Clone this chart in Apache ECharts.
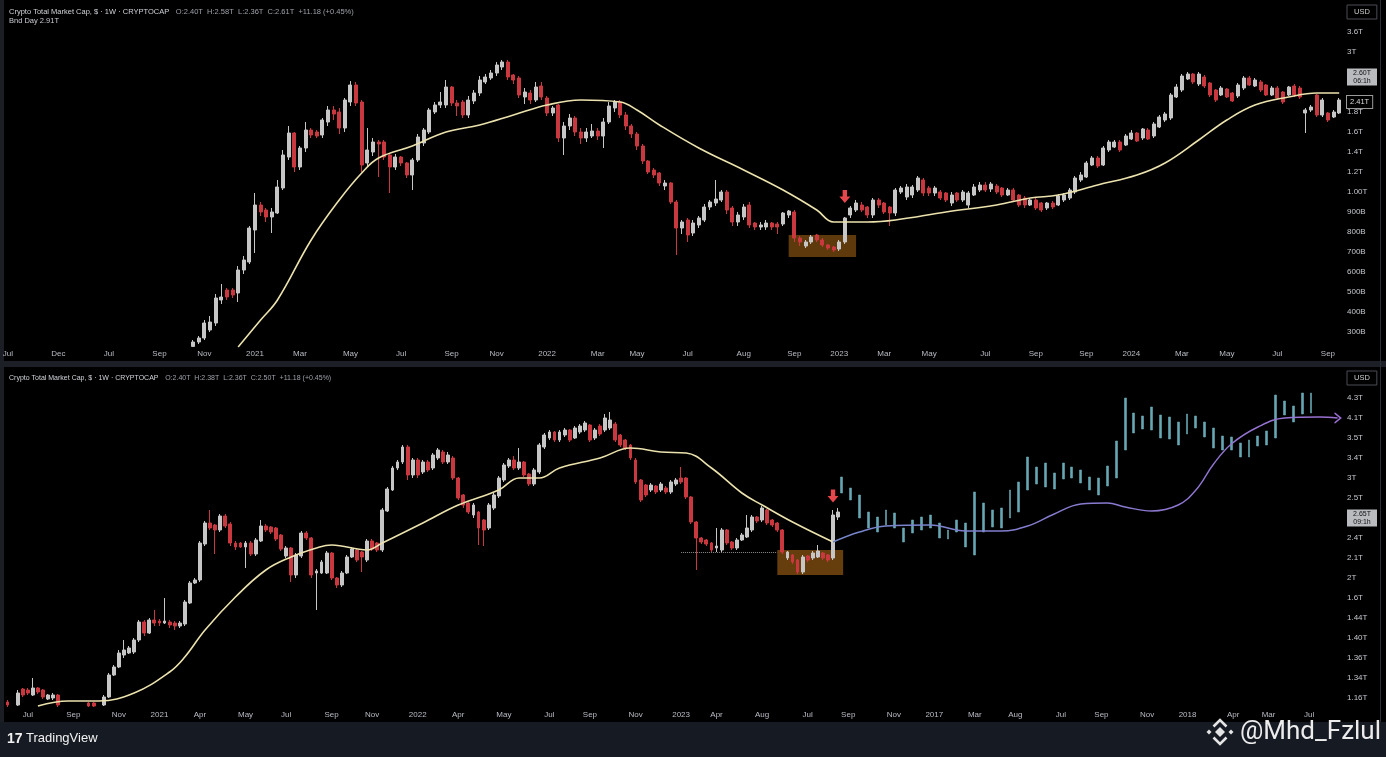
<!DOCTYPE html>
<html><head><meta charset="utf-8">
<script src="https://cdn.jsdelivr.net/npm/echarts@6/dist/echarts.min.js"></script>
<style>html,body{margin:0;padding:0;background:#000;}#c{width:1386px;height:757px;}</style>
</head><body><div id="c"></div>
<script>
// ---------- categories (weekly) ----------
const TOP_X_LABELS = ['Jul','Dec','Jul','Sep','Nov','2021','Mar','May','Jul','Sep','Nov','2022','Mar','May','Jul','Aug','Sep','2023','Mar','May','Jul','Sep','Sep','2024','Mar','May','Jul','Sep'];
const TOP_X_SPANS  = [9,9,9,8,9,8,9,9,9,8,9,9,7,9,10,9,8,8,8,10,9,9,8,9,8,9,9,3];
const BOT_X_LABELS = ['','Jul','Sep','Nov','2021','Apr','May','Jul','Sep','Nov','2022','Apr','May','Jul','Sep','Nov','2023','Apr','Aug','Jul','Sep','Nov','2017','Mar','Aug','Jul','Sep','Nov','2018','Apr','Mar','Jul'];
const BOT_X_SPANS  = [4,9,9,8,8,9,8,9,8,9,8,9,9,8,9,9,7,9,9,8,9,8,8,8,9,8,9,8,9,7,8,7];
const PROJ_SLOTS = 151;

// ---------- price-axis tick labels (one per step, bottom to top) ----------
const TOP_Y_TICKS = ['300B','400B','500B','600B','700B','800B','900B','1.00T','1.2T','1.4T','1.6T','1.8T','','','3T','3.6T','USD'];
const BOT_Y_TICKS = ['1.16T','1.34T','1.36T','1.40T','1.44T','1.6T','2T','2.1T','2.4T','','2.5T','3T','3.4T','3.5T','4.1T','4.3T','USD'];
const TOP_TAGS = [[12.75,'2.60T|06:1h','tag'],[11.5,'2.41T','box']];
const BOT_TAGS = [[9,'2.65T|09:1h','tag']];

// ---------- top panel: weekly candles [open, close, low, high] ----------
const TOP_LEAD = 33;
const TOP_OHLC = [
[-0.72,-0.5,-0.75,-0.4],[-0.5,-0.3,-0.6,-0.2],[-0.3,0.45,-0.4,0.6],[0.1,0.5,0,0.8],[0.45,1.7,0.3,1.9],
[1.6,1.75,1.4,2.4],[2.1,1.75,1.6,2.2],[2.1,1.85,1.7,2.2],[1.95,3.1,1.5,3.3],[3.1,3.6,2.9,3.8],
[3.5,5.2,3.4,5.3],[5.1,6.35,3.95,6.95],[6.35,6,5.8,6.5],[6.1,5.75,5.5,6.2],[5.75,6,4.95,6.2],
[5.95,7.25,5.9,7.6],[7.2,8.85,7.1,9.1],[8.75,9.95,8.6,10.3],[9.95,8.25,8,10],[8.25,9.2,8.1,9.3],
[9.2,10.1,9,10.5],[10.1,9.85,9.7,10.2],[10,9.8,9.7,10.1],[9.85,10.6,9.7,10.7],[10.5,11.1,10.3,11.3],
[11.1,10.9,10.6,11.3],[11,10.2,9.9,11.2],[10.2,11.6,10,11.7],[11.5,12.35,11.3,12.55],[12.35,11.45,11.3,12.5],
[11.5,8.35,8,11.6],[8.45,9.1,8.3,10.2],[9,9.5,8.8,9.7],[9.5,9.4,7.75,9.6],[9.5,8.75,8.6,9.6],
[8.85,8.25,6.95,8.9],[8.25,8.75,8.1,8.9],[8.75,8.45,8.3,8.8],[8.45,7.85,7.7,8.5],[7.85,8.6,7.1,8.7],
[8.6,9.75,8.5,9.9],[9.45,10.1,9.3,10.2],[10,11.1,9.9,11.2],[11,11.35,10.9,11.5],[11.35,11.5,11.2,12],
[11.35,12.25,11.2,12.6],[12.25,11.45,11.3,12.3],[11.45,11.3,10.8,11.6],[11.5,10.85,10.7,11.6],[10.85,11.6,10.7,11.8],
[11.55,11.95,11.4,12.1],[11.95,12.6,11.8,12.8],[12.5,12.75,12.4,12.9],[12.7,12.95,12.6,13.1],[12.95,13.35,12.8,13.5],
[13.25,13.5,13.1,13.6],[13.5,12.75,12.6,13.6],[12.85,12.6,12.4,12.9],[12.7,11.85,11.7,12.8],[11.75,12,11.4,12.2],
[11.95,11.6,11.4,12.1],[11.6,12.25,11.5,12.5],[12.3,11.75,11.6,12.5],[11.7,10.95,10.8,11.8],[10.95,11.2,10.8,11.3],
[11.35,9.7,9.5,11.4],[9.7,10.3,8.85,10.5],[10.3,10.7,10.1,10.9],[10.7,10,9.8,10.8],[10,9.7,9.4,10.2],
[9.7,10,9.5,10.2],[9.8,10.05,9.7,10.4],[10.05,9.8,9.6,10.2],[9.8,10.5,9.2,10.7],[10.5,11.3,10.4,11.5],
[11.2,11.5,11,11.6],[11.5,10.85,10.7,11.6],[10.85,10.3,10.1,11],[10.3,9.9,9.7,10.4],[9.9,9.3,9.1,10],
[9.3,8.55,8.4,9.4],[8.55,8,7.9,8.6],[8.1,7.85,7.7,8.2],[7.95,7.45,7.3,8],[7.3,7.45,7.1,7.6],
[7.45,6.5,6.4,7.5],[6.5,5.2,3.85,6.6],[5.2,5.5,4.9,5.6],[5.6,4.85,4.5,5.7],[4.95,5.45,4.8,5.6],
[5.35,5.7,5.2,5.8],[5.6,6.25,5.5,6.4],[6.25,6.5,6.1,6.6],[6.45,6.65,6.3,7.6],[6.6,7,6.5,7.1],
[7,6.1,5.9,7.1],[6.2,5.5,5.3,6.3],[5.5,5.85,5.3,6],[5.75,6.25,5.6,6.4],[6.35,5.35,5.2,6.5],
[5.45,5.25,5.1,5.5],[5.25,5.35,5.1,5.5],[5.25,5.45,5.1,5.6],[5.45,5.25,5.1,5.5],[5.4,5.25,4.9,5.5],
[5.4,5.95,5.3,6],[5.85,6.05,5.7,6.1],[6,4.7,4.5,6.1],[4.7,4.5,4.3,4.8],[4.3,4.5,4.2,4.6],
[4.5,4.75,4.4,4.85],[4.85,4.6,4.5,4.9],[4.6,4.35,4.25,4.7],[4.35,4.2,4.1,4.4],[4.25,4.1,4,4.3],
[4.15,4.5,4.05,4.6],[4.5,5.7,4.4,5.75],[5.85,6.2,5.7,6.3],[6.1,6.45,6,6.6],[6.35,6.1,6,6.5],
[6.25,5.85,5.7,6.3],[5.85,6.6,5.7,6.7],[6.6,6.35,6.2,6.7],[6.45,6,5.9,6.5],[6.25,5.95,5.3,6.3],
[5.95,7.1,5.8,7.2],[7,7.2,6.9,7.3],[6.75,7.25,6.6,7.4],[6.85,7.25,6.7,7.35],[7.1,7.7,7,7.8],
[7.6,6.95,6.8,7.7],[7.2,6.95,6.8,7.3],[6.95,7.2,6.8,7.3],[7,6.7,6.6,7.1],[6.95,6.6,6.5,7],
[6.45,6.85,6.3,7],[6.95,6.6,6.5,7],[6.6,7,6.5,7.1],[6.35,6.95,6.2,7.05],[6.85,7.25,6.8,7.4],
[7.1,7.35,7,7.5],[7.35,7.1,7,7.5],[7.15,7.4,7,7.5],[7.3,7,6.9,7.4],[7.2,6.85,6.75,7.25],
[6.85,7.1,6.8,7.2],[7.1,6.6,6.5,7.2],[6.85,6.35,6.25,6.9],[6.7,6.35,6.2,6.8],[6.35,6.6,6.3,6.7],
[6.6,6.2,6.1,6.7],[6.45,6.1,6,6.5],[6.2,6.45,6.1,6.5],[6.45,6.25,6.15,6.55],[6.35,6.8,6.3,6.9],
[6.6,6.85,6.5,6.95],[6.7,7.1,6.6,7.2],[7,7.7,6.9,7.8],[7.6,7.85,7.5,8],[7.75,8.45,7.7,8.55],
[8.35,8.7,8.3,8.8],[8.7,8.3,8.2,8.8],[8.35,9.2,8.3,9.3],[9.1,9.5,9,9.6],[9.25,9.5,9.2,9.6],
[9.5,9.1,9,9.6],[9.35,9.8,9.3,9.9],[9.65,9.95,9.6,10.1],[9.95,9.55,9.5,10],[9.7,10.15,9.6,10.2],
[10.1,9.65,9.6,10.2],[9.8,10.4,9.7,10.5],[10.25,10.75,10.2,10.85],[10.6,10.9,10.5,11],[10.7,11.85,10.6,11.95],
[11.75,12.25,11.7,12.4],[12.1,12.8,12,12.9],[12.65,12.9,12.6,13],[12.9,12.5,12.4,12.95],[12.4,12.9,12.3,13],
[12.75,12.3,12.2,12.85],[12.45,11.85,11.75,12.5],[12.1,11.6,11.5,12.15],[11.85,12.2,11.8,12.3],[12.15,11.75,11.7,12.2],
[11.95,11.55,11.5,12],[11.8,12.35,11.7,12.45],[12.2,12.7,12.1,12.8],[12.7,12.35,12.3,12.8],[12.3,12.6,12.25,12.7],
[12.5,12.1,12,12.6],[12.35,11.85,11.8,12.4],[11.85,12.2,11.8,12.3],[12.2,11.7,11.6,12.3],[12,11.5,11.4,12.05],
[11.85,12.25,11.8,12.3],[12.3,11.85,11.75,12.4],[12.2,11.75,11.65,12.3],[10.95,11.1,9.95,11.2],[11.1,11.25,11,11.35],
[11.85,10.85,10.75,11.9],[10.85,11.6,10.75,11.7],[10.95,10.6,10.5,11],[10.75,11,10.7,11.1],[10.95,11.6,10.9,11.7]
];
// 20-week average, [week, value]
const TOP_MA = [[41,-0.75],[45,0.6],[48,1.6],[54,4.6],[59,6.6],[63,7.95],[66,8.7],[72,9.3],[78,10],[84,10.35],[90,10.85],[96,11.35],[102,11.6],[109,11.5],[112,11.1],[116,10.35],[123,9.2],[131,8.1],[138,7.1],[144,6.1],[147,5.5],[153,5.5],[158,5.6],[167,6],[176,6.35],[182,6.7],[187,6.85],[194,7.35],[201,7.85],[206,8.45],[212,9.6],[217,10.6],[222,11.35],[228,11.75],[233,11.95],[237,11.95]];
const TOP_BOX = [139,151,3.75,4.85];
const TOP_ARROW = [149,6.78];

// ---------- bottom panel ----------
const BOT_OHLC = [
[-0.2,-0.35,-0.45,-0.1],null,[-0.35,0.25,-0.4,0.4],[0.45,0.15,0.05,0.5],[0.4,0.25,0.15,0.5],
[0.15,0.5,0.1,1],[0.5,0.3,0.2,0.55],[0.4,0.05,-0.05,0.45],[-0.05,0.15,-0.1,0.2],[0,0.15,-0.1,0.25],
[0.15,-0.35,-0.45,0.2],null,null,null,null,
null,[-0.25,-0.4,-0.45,-0.2],[-0.25,-0.4,-0.45,-0.2],null,[-0.35,0.05,-0.4,0.15],
[0.05,1.15,0,1.25],[1.15,1.55,1.1,1.65],[1.55,2.25,1.5,2.4],[2.15,2.4,2,2.9],[2.25,2.5,2.2,2.6],
[2.3,2.9,2.2,3],[2.9,3.8,2.8,3.9],[3.8,3.25,3.1,3.9],[3.25,3.9,3.2,4],[3.9,3.75,3.6,4.4],
[3.85,3.75,3.6,3.95],[3.75,3.85,3.7,5],[3.8,3.65,3.5,3.9],[3.75,3.6,3.4,3.85],[3.6,3.75,3.5,3.85],
[3.7,4.8,3.6,4.9],[4.75,5.75,4.7,5.85],[5.75,5.9,5.7,6],[5.9,7.75,5.8,7.85],[7.7,8.75,7.6,8.85],
[8.75,8.5,8.4,9.4],[8.65,8.4,7.2,8.7],[8.4,9.1,8.3,9.2],[9.1,8.6,8.5,9.2],[8.7,7.75,7.6,8.8],
[7.75,7.55,7.4,7.85],[7.75,7.55,7.5,7.8],[7.55,7.75,6.5,7.85],[7.75,7.2,7.1,7.85],[7.2,7.9,7.1,8],
[7.85,8.6,7.8,8.9],[8.6,8.4,8.3,8.7],[8.55,8.3,8.2,8.6],[8.5,7.95,7.85,8.55],[8.15,7.45,7.35,8.2],
[7.1,7.5,7,7.6],[7.5,6.15,5.8,7.55],[6.15,7.15,6,7.25],[7.1,8.25,7,8.35],[8.25,8,7.9,8.35],
[8,6.15,6,8.05],[6.25,6.35,4.4,6.45],[6.25,6.8,6.2,6.9],[6.25,7.25,6.2,7.35],[7.25,6,5.9,7.3],
[6,5.65,5.5,6.05],[5.65,6.25,5.55,6.35],[6.25,7.05,6.2,7.15],[7.05,7.45,7,7.55],[7.4,6.9,6.8,7.5],
[7.3,7.05,6.3,7.35],[6.9,7.85,6.8,7.95],[7.85,7.45,7.35,7.95],[7.75,7.4,7.3,7.8],[7.4,9.4,7.3,9.5],
[9.35,10.45,9.3,10.55],[10.4,11.5,10.35,11.6],[11.5,11.8,11.4,11.9],[11.8,12.55,11.7,12.65],[12.55,11.15,10.9,12.65],
[11.15,11.9,11,12],[11.9,11.15,11,12],[11.3,11.8,11.2,11.9],[11.8,11.4,11.3,11.9],[11.5,12.15,11.4,12.25],
[12,12.4,11.9,12.5],[12.3,11.8,11.7,12.4],[11.8,12.15,11.7,12.3],[12,11,10.9,12.1],[11,10,9.9,11.05],
[10.15,9.65,9.5,10.2],[9.75,9.3,9.2,9.8],[9.15,9.65,9,9.75],[9.3,8.5,7.65,9.35],[8.9,8.4,7.6,8.95],
[8.5,9.65,8.4,9.75],[9.5,10.15,9.4,10.25],[10.1,11,10,11.1],[10.9,11.65,10.8,11.75],[11.6,11.9,11.5,12],
[11.9,11.5,11.4,12.1],[11.5,11.8,11.4,12.5],[11.8,11.15,11.05,11.85],[11.2,10.7,10.6,11.25],[10.7,11.4,10.6,11.5],
[11.3,12.65,11.2,12.75],[12.55,13.15,12.45,13.25],[13,13.3,12.9,13.4],[13.3,12.9,12.8,13.35],[12.9,13.3,12.8,13.4],
[13.15,13.4,13.05,13.5],[13.4,12.9,12.8,13.45],[13,13.5,12.95,13.6],[13.3,13.6,13.2,13.7],[13.4,13.75,13.3,13.85],
[13.65,12.9,12.8,13.7],[13,13.4,12.9,13.5],[13.6,13.2,13.1,13.7],[13.4,14,13.3,14.2],[13.5,13.9,13.4,14.3],
[13.7,12.9,12.8,13.8],[13.15,12.65,12.55,13.2],[12.9,12.5,12.4,12.95],[12.65,12,11.9,12.7],[11.9,10.8,10.7,12],
[10.9,9.9,9.8,10.95],[10.65,10.15,10.05,10.7],[10.4,10.65,10.3,10.75],[10.6,10.3,10.2,10.65],[10.4,10.7,10.3,10.8],
[10.5,10.3,10.2,10.6],[10.3,10.8,10.2,10.9],[10.7,10.9,10.6,11],[11,10.8,10.7,11.55],[11,10.05,9.95,11.05],
[10.05,8.8,8.7,10.1],[8.8,8,6.4,8.85],[8,7.8,7.7,8.05],[7.9,7.7,7.6,7.95],[7.75,7.4,7.3,7.8],
[7.5,7.6,7.3,8.5],[7.4,8.4,7.3,8.5],[8.4,7.75,7.65,8.45],[7.8,7.5,7.4,7.85],[7.5,7.9,7.4,8],
[7.9,8.15,7.85,8.25],[8.05,8.5,8,9.15],[8.4,9.05,8.3,9.15],[9.05,8.85,8.75,9.1],[8.9,9.5,8.8,9.6],
[9.4,8.75,8.65,9.45],[8.9,8.65,8.55,8.95],[8.75,8.4,8.3,8.8],[8.4,7.3,7.2,8.45],[7,7.3,6.9,7.35],
[7.15,6.8,6.7,7.2],[6.9,6.3,6.2,6.95],[6.3,7.05,6.2,7.15],[7.1,6.9,6.8,7.15],[7,7.25,6.9,7.35],
[7.05,7.35,7,7.65],[7.25,7,6.9,7.3],[7.15,6.9,6.8,7.2],[7,9.15,6.9,9.4],[9.05,9.3,8.9,9.5]
];
const BOT_MA = [[6,-0.4],[12,-0.15],[18,-0.15],[25,0.25],[32,1.3],[35,2.05],[39,3.4],[45,5.05],[51,6.4],[56,7.05],[61,7.5],[64,7.65],[71,7.4],[74,7.75],[82,8.75],[89,9.65],[97,10.4],[101,11],[105,11],[109,11.5],[117,12],[123,12.5],[129,12.3],[134,12.25],[139,11.5],[145,10.25],[149,9.65],[155,8.8],[163,7.8]];
const BOT_BOX = [152,165,6.15,7.4];
const BOT_ARROW = [163,10.1];
const BOT_SUPPORT = [133,152,7.3];
// projected path: [low, high] per slot, starting at slot PROJ_LEAD
const PROJ_LEAD = 94;
const PROJ_BARS = [[10.25,11.05],[9.9,10.5],[9,10.15],[8.5,9.3],[8.3,9.05],[8.65,9.4],[8.5,9.25],[7.8,8.5],[8.25,8.9],[8.4,9.05],[8.5,9.15],[8,8.75],[7.95,8.4],[8.3,8.9],[7.55,8.75],[7.15,10.3],[8.3,9.75],[8.55,9.4],[8.5,9.5],[9,10.4],[9.3,10.8],[10.4,12.05],[10.7,11.55],[10.55,11.75],[10.45,11.25],[10.95,11.75],[11,11.55],[10.75,11.4],[10.4,11.05],[10.15,11],[10.6,11.6],[11,12.85],[12.4,15],[13.25,14.25],[13.45,14.1],[13.4,14.55],[13,14.15],[12.95,14.05],[12.65,13.8],[13.2,14.2],[13.5,14.1],[13.05,13.8],[12.5,13.5],[12.4,13.1],[12.4,13.05],[12.05,12.75],[12.05,12.9],[12.6,13.1],[12.65,13.35],[13,15.15],[14.15,14.85],[13.8,14.6],[14.2,15.25],[14.25,15.25]];
const PROJ_MA = [[93,7.8],[96,8.3],[99,8.6],[104,8.65],[108,8.35],[112,8.35],[115,8.6],[118,9.2],[121,9.7],[124,9.75],[126,9.55],[129,9.35],[132,9.65],[134,10.4],[136,11.7],[138,12.7],[141,13.55],[144,14],[148,14.05],[150,14]];

// ---------- headers ----------
const HEAD_TITLE = 'Crypto Total Market Cap, $ · 1W · CRYPTOCAP';
const HEAD_TOP_VALUES = 'O:2.40T  H:2.58T  L:2.36T  C:2.61T  +11.18 (+0.45%)';
const HEAD_TOP_SUB = 'Bnd Day 2.91T';
const HEAD_BOT_VALUES = 'O:2.40T  H:2.38T  L:2.36T  C:2.50T  +11.18 (+0.45%)';

// ---------- build ----------
function buildCats(labels, spans){const out=[];labels.forEach((l,k)=>{for(let s=0;s<spans[k];s++)out.push((s===0?l:'')+'|'+out.length);});return out;}
const topCats = buildCats(TOP_X_LABELS, TOP_X_SPANS);
const botCats = buildCats(BOT_X_LABELS, BOT_X_SPANS);
const projCats = Array.from({length:PROJ_SLOTS},(_,j)=>'p|'+j);
const topData = topCats.map((_,i)=>{const r=TOP_OHLC[i-TOP_LEAD];return r?r:'-';});
const botData = botCats.map((_,i)=>{const r=BOT_OHLC[i];return r?r:'-';});
const projData = projCats.map((_,j)=>{const r=PROJ_BARS[j-PROJ_LEAD];return r?[r[0],r[1],r[0],r[1]]:'-';});
const projMA = PROJ_MA.map((p,k)=>k===PROJ_MA.length-1?{value:p,symbol:'path://M0,0L8,6L0,12',symbolSize:[6,10],itemStyle:{color:'rgba(0,0,0,0)',borderColor:'#9a6fd2',borderWidth:1.5}}:{value:p,symbol:'none'});

const UP='#c6c6c6', DOWN='#c9383e';
const FONT="'Liberation Sans',sans-serif";
const RICH={
  tag:{backgroundColor:'#b9bbbf',color:'#111',fontSize:7,lineHeight:8,width:26,align:'center',padding:[1,2],fontFamily:FONT},
  box:{backgroundColor:'#000',borderColor:'#9a9a9a',borderWidth:1,color:'#ddd',fontSize:7.5,padding:[2,3],fontFamily:FONT},
  usd:{borderColor:'#4a4d55',borderWidth:1,color:'#ccc',fontSize:7.5,padding:[3,7],fontFamily:FONT}
};
function yFmt(ticks,tags){return v=>{const t=tags.find(t=>Math.abs(t[0]-v)<1e-6);if(t)return t[1].split('|').map(s=>'{'+t[2]+'|'+s+'}').join('\n');if(Number.isInteger(v)&&v>=0){const s=ticks[v]||'';if(s==='USD')return '{usd|USD}';return s;}return '';};}
const xLabel={color:'#b9bcc4',fontSize:8,fontFamily:FONT,margin:3,interval:(i,v)=>v.split('|')[0]!=='',formatter:v=>v.split('|')[0]};
const yLabel=(ticks,tags)=>({color:'#c4c7cd',fontSize:8,fontFamily:FONT,margin:5,formatter:yFmt(ticks,tags),rich:RICH});
const ARROW='path://M3,0L7,0L7,5L10,5L5,10L0,5L3,5Z';
function header(top,title,values,size){
  return {type:'text',left:9,top:top,z:50,silent:true,style:{text:'{a|'+title+'}  {b|'+values+'}',
    rich:{a:{fill:'#d0d3d9',fontSize:size,fontFamily:'Liberation Sans'},b:{fill:'#9da1a9',fontSize:size,fontFamily:'Liberation Sans'}}}};
}

const chart=echarts.init(document.getElementById('c'));
chart.setOption({
  animation:false,
  backgroundColor:'#000',
  grid:[
    {left:5,right:44,top:2,height:345,outerBoundsMode:'none'},
    {left:5,right:44,top:368,height:340,outerBoundsMode:'none'}
  ],
  xAxis:[
    {type:'category',gridIndex:0,data:topCats,boundaryGap:true,axisLine:{show:false},axisTick:{show:false},axisLabel:xLabel,splitLine:{show:false}},
    {type:'category',gridIndex:1,data:botCats,boundaryGap:true,axisLine:{show:false},axisTick:{show:false},axisLabel:xLabel,splitLine:{show:false}},
    {type:'category',gridIndex:1,data:projCats,boundaryGap:true,show:false}
  ],
  yAxis:[
    {type:'value',gridIndex:0,position:'right',min:-0.75,max:16.5,interval:0.25,axisLine:{show:false},axisTick:{show:false},splitLine:{show:false},axisLabel:yLabel(TOP_Y_TICKS,TOP_TAGS)},
    {type:'value',gridIndex:1,position:'right',min:-0.5,max:16.5,interval:0.5,axisLine:{show:false},axisTick:{show:false},splitLine:{show:false},axisLabel:yLabel(BOT_Y_TICKS,BOT_TAGS)}
  ],
  series:[
    {type:'candlestick',xAxisIndex:0,yAxisIndex:0,data:topData,barWidth:'62%',
     itemStyle:{color:UP,color0:DOWN,borderColor:UP,borderColor0:DOWN,borderWidth:1},
     markArea:{silent:true,itemStyle:{color:'rgba(170,104,22,0.55)'},data:[[{xAxis:TOP_BOX[0],yAxis:TOP_BOX[3]},{xAxis:TOP_BOX[1],yAxis:TOP_BOX[2]}]]},
     markPoint:{silent:true,label:{show:false},data:[{coord:TOP_ARROW,symbol:ARROW,symbolSize:[11,13],itemStyle:{color:'#e5474c'}}]}},
    {type:'line',xAxisIndex:0,yAxisIndex:0,data:TOP_MA,smooth:0.4,symbol:'none',lineStyle:{color:'#ebe2ad',width:1.6},z:3},
    {type:'candlestick',xAxisIndex:1,yAxisIndex:1,data:botData,barWidth:'66%',
     itemStyle:{color:UP,color0:DOWN,borderColor:UP,borderColor0:DOWN,borderWidth:1},
     markArea:{silent:true,itemStyle:{color:'rgba(170,104,22,0.6)'},data:[[{xAxis:BOT_BOX[0],yAxis:BOT_BOX[3]},{xAxis:BOT_BOX[1],yAxis:BOT_BOX[2]}]]},
     markLine:{silent:true,symbol:['none','none'],label:{show:false},lineStyle:{type:'dotted',color:'#8c8c8c',width:1},data:[[{coord:[BOT_SUPPORT[0],BOT_SUPPORT[2]]},{coord:[BOT_SUPPORT[1],BOT_SUPPORT[2]]}]]},
     markPoint:{silent:true,label:{show:false},data:[{coord:BOT_ARROW,symbol:ARROW,symbolSize:[11,13],itemStyle:{color:'#e5474c'}}]}},
    {type:'line',xAxisIndex:1,yAxisIndex:1,data:BOT_MA,smooth:0.4,symbol:'none',lineStyle:{color:'#ebe2ad',width:1.6},z:3},
    {type:'candlestick',xAxisIndex:2,yAxisIndex:1,data:projData,barWidth:2.4,
     itemStyle:{color:'#67a7b3',color0:'#67a7b3',borderColor:'#67a7b3',borderColor0:'#67a7b3',borderWidth:0.6}},
    {type:'line',xAxisIndex:2,yAxisIndex:1,data:projMA,smooth:0.4,showSymbol:true,showAllSymbol:true,symbol:'none',
     lineStyle:{width:1.4,color:new echarts.graphic.LinearGradient(0,0,1,0,[{offset:0,color:'#7486cc'},{offset:1,color:'#9a6fd2'}])},z:3}
  ],
  graphic:[
    {type:'rect',left:0,top:0,shape:{width:4,height:722},style:{fill:'#1b1e25'},z:-1,silent:true},
    {type:'rect',left:0,top:361,shape:{width:1386,height:6},style:{fill:'#1c1f26'},z:-1,silent:true},
    {type:'rect',left:1380,top:0,shape:{width:1,height:722},style:{fill:'#2b2f38'},z:-1,silent:true},
    {type:'rect',left:0,top:722,shape:{width:1386,height:35},style:{fill:'#161a22'},z:-1,silent:true},
    header(6,HEAD_TITLE,HEAD_TOP_VALUES,7.5),
    {type:'text',left:9,top:17,style:{text:HEAD_TOP_SUB,fill:'#c8cbd1',font:'7.5px "Liberation Sans"'},z:50,silent:true},
    header(372,HEAD_TITLE,HEAD_BOT_VALUES,7),
    {type:'text',left:7,top:732,style:{text:'17',fill:'#f2f2f2',font:'bold 14px "Liberation Sans"'},z:50,silent:true},
    {type:'text',left:26,top:732,style:{text:'TradingView',fill:'#f2f2f2',font:'13px "Liberation Sans"'},z:50,silent:true},
    {type:'polygon',shape:{points:[[1220,727],[1225,732],[1220,737],[1215,732]]},style:{fill:'#e4e4e4'},z:50,silent:true},
    {type:'polygon',shape:{points:[[1209,729.5],[1211.5,732],[1209,734.5],[1206.5,732]]},style:{fill:'#e4e4e4'},z:50,silent:true},
    {type:'polygon',shape:{points:[[1231,729.5],[1233.5,732],[1231,734.5],[1228.5,732]]},style:{fill:'#e4e4e4'},z:50,silent:true},
    {type:'polyline',shape:{points:[[1213.5,726.5],[1220,720],[1226.5,726.5]]},style:{stroke:'#e4e4e4',lineWidth:2.6,fill:null},z:50,silent:true},
    {type:'polyline',shape:{points:[[1213.5,737.5],[1220,744],[1226.5,737.5]]},style:{stroke:'#e4e4e4',lineWidth:2.6,fill:null},z:50,silent:true},
    {type:'text',left:1240,top:719,style:{text:'@Mhd_Fzlul',fill:'#ececec',font:'26px Roboto'},z:50,silent:true}
  ]
});
</script></body></html>
